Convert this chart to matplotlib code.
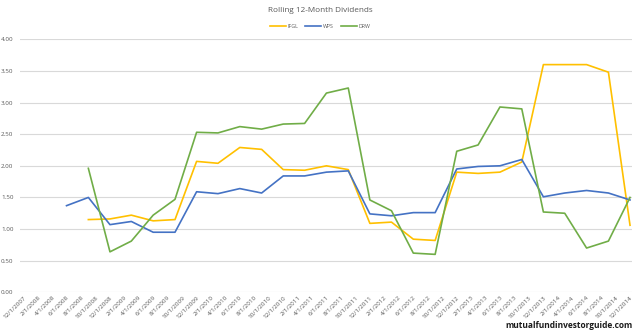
import matplotlib
matplotlib.use("Agg")
import matplotlib.pyplot as plt
import pandas as pd

# quarterly data points, 6/2008 .. 12/2014
quarters = pd.date_range("2008-06-01", "2014-12-01", freq="3MS")
ifgl = [None, 1.15, 1.16, 1.22, 1.13, 1.15, 2.07, 2.04, 2.29, 2.26, 1.94, 1.93, 2.00, 1.94,
        1.09, 1.11, 0.84, 0.82, 1.90, 1.88, 1.90, 2.06, 3.60, 3.60, 3.60, 3.48, 1.06]
wps = [1.37, 1.50, 1.07, 1.12, 0.95, 0.95, 1.59, 1.56, 1.64, 1.57, 1.84, 1.84, 1.90, 1.92,
       1.24, 1.21, 1.26, 1.26, 1.95, 1.99, 2.00, 2.10, 1.51, 1.57, 1.61, 1.57, 1.46]
drw = [None, 1.96, 0.64, 0.81, 1.22, 1.47, 2.53, 2.52, 2.62, 2.58, 2.66, 2.67, 3.15, 3.23,
       1.46, 1.29, 0.62, 0.60, 2.23, 2.33, 2.93, 2.90, 1.27, 1.25, 0.70, 0.81, 1.50]

tick_dates = pd.date_range("2007-12-01", "2014-12-01", freq="2MS")
tick_labels = [f"{d.month}/{d.day}/{d.year}" for d in tick_dates]

plt.rcParams["font.family"] = ["Open Sans", "DejaVu Sans"]
fig = plt.figure(figsize=(6.4, 3.36), dpi=100)
ax = fig.add_axes([0.032, 0.130, 0.955, 0.753])

df = pd.DataFrame({"IFGL": ifgl, "WPS": wps, "DRW": drw}, index=quarters, dtype=float)
ax.plot(df.index, df["IFGL"], color="#FFC000", lw=1.2, label="IFGL")
ax.plot(df.index, df["WPS"], color="#4472C4", lw=1.2, label="WPS")
ax.plot(df.index, df["DRW"], color="#70AD47", lw=1.2, label="DRW")

ax.set_ylim(0, 4)
ax.set_yticks([i * 0.5 for i in range(9)])
ax.set_yticklabels([f"{i * 0.5:.2f}" for i in range(9)])
ax.set_xlim(pd.Timestamp("2007-11-20"), pd.Timestamp("2014-12-08"))
ax.set_xticks(tick_dates)
ax.set_xticklabels(tick_labels, rotation=45, ha="right", va="top", rotation_mode="anchor")
ax.tick_params(axis="both", length=0, labelsize=4.5, labelcolor="#595959")
ax.tick_params(axis="y", pad=5)
ax.tick_params(axis="x", pad=2)
ax.grid(axis="y", color="#d9d9d9", lw=0.8)
ax.set_axisbelow(True)
for s in ax.spines.values():
    s.set_visible(False)

fig.text(0.5, 0.968, "Rolling 12-Month Dividends", ha="center", va="center",
         fontsize=5.9, color="#595959")
ax.legend(loc="center", bbox_to_anchor=(0.5, 0.922), bbox_transform=fig.transFigure,
          ncol=3, frameon=False, fontsize=3.8, handlelength=3.0, columnspacing=1.4,
          handletextpad=0.3, labelcolor="#595959")
fig.text(0.988, 0.03, "mutualfundinvestorguide.com", ha="right", va="center",
         fontsize=6.0, fontweight="bold", color="#1a1a1a")

fig.savefig("out.png", dpi=100)
